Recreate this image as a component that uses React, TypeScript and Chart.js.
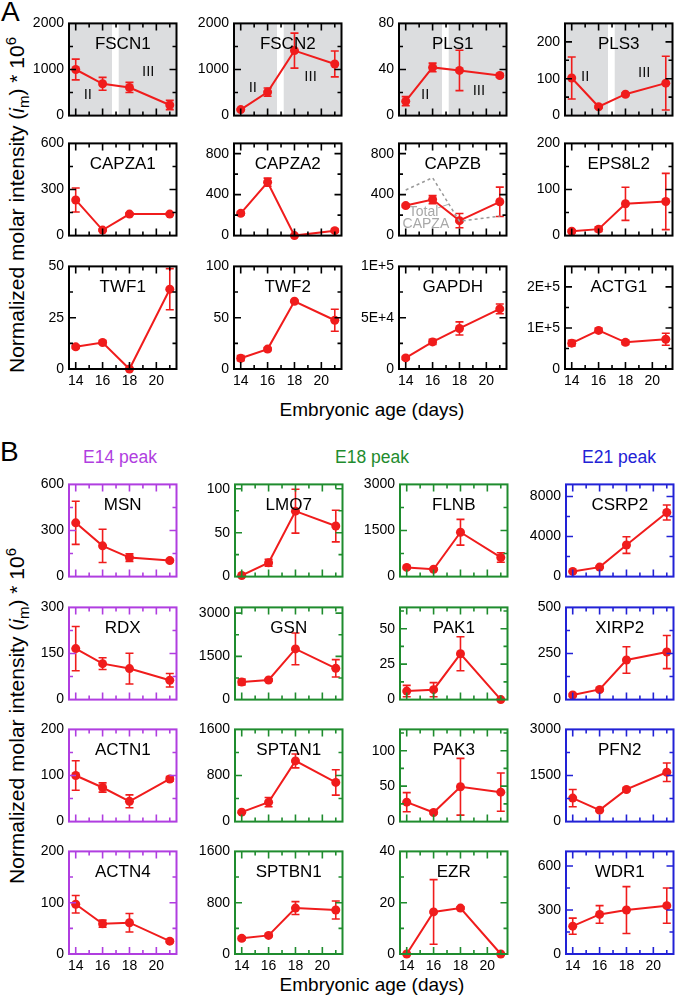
import React, { useEffect, useRef } from "react";
import { Chart, registerables } from "chart.js";
Chart.register(...registerables);

const FONT = '"Liberation Sans", Arial, Helvetica, sans-serif';
Chart.defaults.font.family = FONT;

// ---------- data ----------
const DAYS = [14, 16, 18, 21];
const X_TICKS = [14, 16, 18, 20];

// Panel A
const FSCN1 = [1000, 690, 610, 230];
const FSCN1_ERR = [225, 140, 110, 100];
const FSCN2 = [130, 510, 1410, 1120];
const FSCN2_ERR = [20, 90, 380, 280];
const PLS1 = [12.5, 41.8, 39.2, 34.8];
const PLS1_ERR = [4, 3.7, 17.5, 1.5];
const PLS3 = [102, 24, 58, 88];
const PLS3_ERR = [57, 3, 4, 73];
const CAPZA1 = [232, 36, 140, 140];
const CAPZA1_ERR = [78, 6, 8, 6];
const CAPZA2 = [217, 521, 0, 48];
const CAPZA2_ERR = [15, 40, 5, 15];
const CAPZB = [293, 352, 146, 330];
const CAPZB_ERR = [15, 40, 70, 143];
const TOTAL_CAPZA = [445, 565, 140, 190];
const EPS8L2 = [9.4, 14, 69, 74];
const EPS8L2_ERR = [3, 5, 36, 61];
const TWF1 = [10.8, 12.9, 0, 38.9];
const TWF1_ERR = [0.8, 0.8, 0.5, 10];
const TWF2 = [10.5, 19.4, 66, 47.5];
const TWF2_ERR = [2.5, 1.5, 1, 10.7];
const GAPDH = [10800, 26400, 39500, 58600];
const GAPDH_ERR = [1500, 2500, 6400, 4800];
const ACTG1 = [63000, 94000, 65000, 72500];
const ACTG1_ERR = [7000, 5000, 5000, 14700];

// Panel B
const MSN = [350, 200, 124, 104];
const MSN_ERR = [140, 108, 25, 8];
const RDX = [166, 117, 101, 63];
const RDX_ERR = [72, 19, 50, 22];
const ACTN1 = [100, 74, 44, 92.5];
const ACTN1_ERR = [32, 10, 14, 5];
const ACTN4 = [97, 59, 61, 25];
const ACTN4_ERR = [17, 7, 18, 3];
const LMO7 = [1.3, 15.8, 74.5, 57.6];
const LMO7_ERR = [1, 4, 25, 18];
const GSN = [612, 682, 1760, 1086];
const GSN_ERR = [100, 40, 550, 300];
const SPTAN1 = [164, 337, 1053, 680];
const SPTAN1_ERR = [20, 80, 120, 220];
const SPTBN1 = [244, 290, 716, 686];
const SPTBN1_ERR = [25, 20, 100, 140];
const FLNB = [300, 238, 1443, 623];
const FLNB_ERR = [40, 30, 420, 155];
const PAK1 = [6, 7, 32.3, 0];
const PAK1_ERR = [4, 5, 12, 0.5];
const PAK3 = [27.4, 12.8, 49.2, 41.5];
const PAK3_ERR = [13.5, 2, 40, 27];
const EZR = [0, 16.4, 17.9, 0];
const EZR_ERR = [0, 12.6, 0.5, 0];
const CSRP2 = [516, 946, 3150, 6400];
const CSRP2_ERR = [60, 80, 830, 750];
const XIRP2 = [25, 55, 215, 258];
const XIRP2_ERR = [8, 8, 72, 90];
const PFN2 = [765, 373, 1046, 1607];
const PFN2_ERR = [280, 40, 50, 300];
const WDR1 = [190, 270, 300, 330];
const WDR1_ERR = [55, 60, 160, 120];

// y tick labels that are not plain numbers
const GAPDH_LABELS = ["0", "5E+4", "1E+5"];
const ACTG1_LABELS = ["0", "1E+5", "2E+5"];

// ---------- styling / layout ----------
const RED = "#f01c1c";
const BLACK = "#000000";
const PURPLE = "#b03ee0";
const GREEN = "#1f8c2e";
const BLUE = "#2222d6";
const SHADE = "#dcdddf";

const PLOT_W = 109;
const PLOT_H = 106;
const Y_W = 55;
const PAD_T = 10;
const PAD_R = 3;
const X_H = 25;

const A_COLS = [69, 234, 399, 565];
const A_ROWS = [20, 140, 263];
const B_COLS = [69, 235, 400, 566];
const B_ROWS = [481, 604, 726, 848];

type Note = { text: string; x: number; y: number };
type PanelDef = {
  name: string;
  values: number[];
  errors: number[];
  max: number;
  ticks: number[];
  labels?: string[];
  color: string;
  left: number;
  top: number;
  bottom: boolean;
  shadeNotes?: Note[];
  total?: number[];
  grayNotes?: Note[];
  connector?: number[][];
};

const SHADE_BANDS = [
  [13.5, 16.7],
  [17.2, 21.5],
];

const A = (name, values, errors, max, ticks, c, r, extra = {}) =>
  ({ name, values, errors, max, ticks, color: BLACK, left: A_COLS[c], top: A_ROWS[r], bottom: r === 2, ...extra }) as PanelDef;
const B = (name, values, errors, max, ticks, c, r, extra = {}) =>
  ({ name, values, errors, max, ticks, color: [PURPLE, GREEN, GREEN, BLUE][c], left: B_COLS[c], top: B_ROWS[r], bottom: r === 3, ...extra }) as PanelDef;

const PANELS: PanelDef[] = [
  A("FSCN1", FSCN1, FSCN1_ERR, 2000, [0, 1000, 2000], 0, 0, {
    shadeNotes: [{ text: "II", x: 14.9, y: 450 }, { text: "III", x: 19.4, y: 950 }],
  }),
  A("FSCN2", FSCN2, FSCN2_ERR, 2000, [0, 1000, 2000], 1, 0, {
    shadeNotes: [{ text: "II", x: 14.9, y: 600 }, { text: "III", x: 19.2, y: 840 }],
  }),
  A("PLS1", PLS1, PLS1_ERR, 80, [0, 40, 80], 2, 0, {
    shadeNotes: [{ text: "II", x: 15.45, y: 17.7 }, { text: "III", x: 19.45, y: 21.5 }],
  }),
  A("PLS3", PLS3, PLS3_ERR, 250, [0, 100, 200], 3, 0, {
    shadeNotes: [{ text: "II", x: 15.0, y: 106 }, { text: "III", x: 19.4, y: 117 }],
  }),
  A("CAPZA1", CAPZA1, CAPZA1_ERR, 600, [0, 300, 600], 0, 1),
  A("CAPZA2", CAPZA2, CAPZA2_ERR, 900, [0, 400, 800], 1, 1),
  A("CAPZB", CAPZB, CAPZB_ERR, 900, [0, 400, 800], 2, 1, {
    total: TOTAL_CAPZA,
    grayNotes: [{ text: "Total", x: 15.33, y: 229 }, { text: "CAPZA", x: 15.5, y: 109 }],
    connector: [[16.42, 272], [17.2, 306]],
  }),
  A("EPS8L2", EPS8L2, EPS8L2_ERR, 200, [0, 100, 200], 3, 1),
  A("TWF1", TWF1, TWF1_ERR, 50, [0, 25, 50], 0, 2),
  A("TWF2", TWF2, TWF2_ERR, 100, [0, 50, 100], 1, 2),
  A("GAPDH", GAPDH, GAPDH_ERR, 100000, [0, 50000, 100000], 2, 2, { labels: GAPDH_LABELS }),
  A("ACTG1", ACTG1, ACTG1_ERR, 250000, [0, 100000, 200000], 3, 2, { labels: ACTG1_LABELS }),

  B("MSN", MSN, MSN_ERR, 600, [0, 300, 600], 0, 0),
  B("RDX", RDX, RDX_ERR, 300, [0, 150, 300], 0, 1),
  B("ACTN1", ACTN1, ACTN1_ERR, 200, [0, 100, 200], 0, 2),
  B("ACTN4", ACTN4, ACTN4_ERR, 200, [0, 100, 200], 0, 3),
  B("LMO7", LMO7, LMO7_ERR, 105, [0, 50, 100], 1, 0),
  B("GSN", GSN, GSN_ERR, 3200, [0, 1500, 3000], 1, 1),
  B("SPTAN1", SPTAN1, SPTAN1_ERR, 1600, [0, 800, 1600], 1, 2),
  B("SPTBN1", SPTBN1, SPTBN1_ERR, 1600, [0, 800, 1600], 1, 3),
  B("FLNB", FLNB, FLNB_ERR, 3000, [0, 1500, 3000], 2, 0),
  B("PAK1", PAK1, PAK1_ERR, 65, [0, 25, 50], 2, 1),
  B("PAK3", PAK3, PAK3_ERR, 130, [0, 50, 100], 2, 2),
  B("EZR", EZR, EZR_ERR, 40, [0, 20, 40], 2, 3),
  B("CSRP2", CSRP2, CSRP2_ERR, 9200, [0, 4000, 8000], 3, 0),
  B("XIRP2", XIRP2, XIRP2_ERR, 500, [0, 250, 500], 3, 1),
  B("PFN2", PFN2, PFN2_ERR, 3000, [0, 1500, 3000], 3, 2),
  B("WDR1", WDR1, WDR1_ERR, 700, [0, 300, 600], 3, 3),
];

// ---------- plugin ----------
const framePlugin = {
  id: "frame",
  beforeDatasetsDraw(chart: any, _args: any, o: any) {
    const { ctx, chartArea: a, scales } = chart;
    const x = scales.x, y = scales.y;
    ctx.save();
    if (o.shadeNotes) {
      ctx.fillStyle = SHADE;
      for (const [x0, x1] of SHADE_BANDS) {
        const p0 = x.getPixelForValue(x0), p1 = x.getPixelForValue(x1);
        ctx.fillRect(p0, a.top, p1 - p0, a.bottom - a.top);
      }
      ctx.fillStyle = "#111";
      ctx.font = `15px ${FONT}`;
      ctx.textAlign = "center";
      ctx.textBaseline = "middle";
      for (const n of o.shadeNotes) ctx.fillText(n.text, x.getPixelForValue(n.x), y.getPixelForValue(n.y));
    }
    if (o.grayNotes) {
      ctx.fillStyle = "#a8a8a8";
      ctx.font = `14px ${FONT}`;
      ctx.textAlign = "center";
      ctx.textBaseline = "middle";
      for (const n of o.grayNotes) ctx.fillText(n.text, x.getPixelForValue(n.x), y.getPixelForValue(n.y));
    }
    if (o.connector) {
      ctx.strokeStyle = "#a8a8a8";
      ctx.lineWidth = 1;
      ctx.beginPath();
      ctx.moveTo(x.getPixelForValue(o.connector[0][0]), y.getPixelForValue(o.connector[0][1]));
      ctx.lineTo(x.getPixelForValue(o.connector[1][0]), y.getPixelForValue(o.connector[1][1]));
      ctx.stroke();
    }
    // error bars
    ctx.strokeStyle = RED;
    ctx.lineWidth = 1.6;
    o.values.forEach((v: number, i: number) => {
      const e = o.errors[i];
      if (!e) return;
      const px = x.getPixelForValue(DAYS[i]);
      const t = y.getPixelForValue(v + e);
      const b = y.getPixelForValue(Math.max(0, v - e));
      ctx.beginPath();
      ctx.moveTo(px, t);
      ctx.lineTo(px, b);
      ctx.moveTo(px - 4, t);
      ctx.lineTo(px + 4, t);
      ctx.moveTo(px - 4, b);
      ctx.lineTo(px + 4, b);
      ctx.stroke();
    });
    ctx.restore();
  },
  afterDraw(chart: any, _args: any, o: any) {
    const { ctx, chartArea: a, scales } = chart;
    const x = scales.x, y = scales.y;
    ctx.save();
    ctx.strokeStyle = o.color;
    ctx.lineWidth = 1.6;
    const hline = (py: number, len: number) => {
      ctx.beginPath();
      ctx.moveTo(a.left, py);
      ctx.lineTo(a.left + len, py);
      ctx.moveTo(a.right, py);
      ctx.lineTo(a.right - len, py);
      ctx.stroke();
    };
    const majors: number[] = o.ticks;
    const step = majors[1] - majors[0];
    const minors: number[] = [];
    majors.forEach((m) => {
      if (m + step / 2 < o.max - 1e-9) minors.push(m + step / 2);
    });
    majors.forEach((m) => {
      const py = y.getPixelForValue(m);
      if (py > a.top + 2 && py < a.bottom - 2) hline(py, 7);
    });
    minors.forEach((m) => {
      const py = y.getPixelForValue(m);
      if (py > a.top + 2 && py < a.bottom - 2) hline(py, 4);
    });
    for (let d = 14; d <= 21; d++) {
      const px = x.getPixelForValue(d);
      const len = d % 2 === 0 ? 7 : 4;
      ctx.beginPath();
      ctx.moveTo(px, a.bottom);
      ctx.lineTo(px, a.bottom - len);
      ctx.moveTo(px, a.top);
      ctx.lineTo(px, a.top + len);
      ctx.stroke();
    }
    ctx.lineWidth = 2;
    ctx.strokeRect(a.left, a.top, a.right - a.left, a.bottom - a.top);
    ctx.fillStyle = "#000";
    ctx.font = `17px ${FONT}`;
    ctx.textAlign = "center";
    ctx.textBaseline = "middle";
    ctx.fillText(o.name, (a.left + a.right) / 2, a.top + 21);
    ctx.restore();
  },
};

function buildConfig(p: PanelDef): any {
  const datasets: any[] = [];
  if (p.total) {
    datasets.push({
      data: DAYS.map((d, i) => ({ x: d, y: p.total![i] })),
      borderColor: "#9a9a9a",
      borderWidth: 1.5,
      borderDash: [3, 3],
      pointRadius: 0,
      fill: false,
      clip: false,
    });
  }
  datasets.push({
    data: DAYS.map((d, i) => ({ x: d, y: p.values[i] })),
    borderColor: RED,
    backgroundColor: RED,
    pointBackgroundColor: RED,
    pointBorderColor: RED,
    pointBorderWidth: 0,
    borderWidth: 2,
    pointRadius: 4.5,
    fill: false,
    clip: false,
  });
  return {
    type: "line",
    data: { datasets },
    options: {
      animation: false,
      responsive: false,
      maintainAspectRatio: false,
      devicePixelRatio: 1,
      layout: { padding: { top: PAD_T, right: PAD_R, left: 0, bottom: 0 } },
      plugins: {
        legend: { display: false },
        tooltip: { enabled: false },
        frame: {
          name: p.name,
          values: p.values,
          errors: p.errors,
          ticks: p.ticks,
          max: p.max,
          color: p.color,
          shadeNotes: p.shadeNotes,
          grayNotes: p.grayNotes,
          connector: p.connector,
        },
      },
      scales: {
        x: {
          type: "linear",
          min: 13.5,
          max: 21.5,
          grid: { display: false, drawTicks: false },
          border: { display: false },
          ticks: {
            display: p.bottom,
            padding: 4,
            autoSkip: false,
            maxRotation: 0,
            color: "#000",
            font: { size: 14, family: FONT },
          },
          afterBuildTicks: (s: any) => {
            s.ticks = X_TICKS.map((v) => ({ value: v }));
          },
          afterFit: (s: any) => {
            s.height = p.bottom ? X_H : 3;
          },
        },
        y: {
          type: "linear",
          min: 0,
          max: p.max,
          grid: { display: false, drawTicks: false },
          border: { display: false },
          ticks: {
            padding: 5,
            autoSkip: false,
            color: "#000",
            font: { size: 14, family: FONT },
            callback: (v: number, i: number) => (p.labels ? p.labels[i] : String(v)),
          },
          afterBuildTicks: (s: any) => {
            s.ticks = p.ticks.map((v) => ({ value: v }));
          },
          afterFit: (s: any) => {
            s.width = Y_W;
          },
        },
      },
    },
    plugins: [framePlugin],
  };
}

function ChartPanel({ p }: { p: PanelDef }) {
  const ref = useRef<HTMLCanvasElement>(null);
  useEffect(() => {
    const chart = new Chart(ref.current!, buildConfig(p));
    return () => chart.destroy();
  }, [p]);
  const w = Y_W + PLOT_W + PAD_R;
  const h = PAD_T + PLOT_H + (p.bottom ? X_H : 3);
  return (
    <canvas
      ref={ref}
      width={w}
      height={h}
      style={{ position: "absolute", left: p.left - Y_W, top: p.top - PAD_T, width: w, height: h }}
    />
  );
}

const txt = (size: number): React.CSSProperties => ({
  position: "absolute",
  fontFamily: FONT,
  fontSize: size,
  lineHeight: `${size}px`,
  whiteSpace: "nowrap",
  color: "#000",
});

function YTitle({ cx, cy }: { cx: number; cy: number }) {
  return (
    <div
      style={{
        ...txt(21),
        left: cx,
        top: cy,
        transform: "translate(-50%, -50%) rotate(-90deg)",
      }}
    >
      Normalized molar intensity (<i>i</i>
      <sub style={{ fontSize: 15 }}>m</sub>) * 10<sup style={{ fontSize: 15 }}>6</sup>
    </div>
  );
}

function Centered({ x, baseline, size, color, children }: any) {
  return (
    <div
      style={{
        ...txt(size),
        color: color || "#000",
        left: x,
        top: baseline - 0.8465 * size,
        transform: "translateX(-50%)",
      }}
    >
      {children}
    </div>
  );
}

export default function App() {
  return (
    <div style={{ position: "absolute", left: 0, top: 0, width: 675, height: 998, background: "#fff", overflow: "hidden" }}>
      <div style={{ ...txt(28), left: 1, top: 22 - 0.8465 * 28 }}>A</div>
      <div style={{ ...txt(28), left: 0, top: 461.5 - 0.8465 * 28 }}>B</div>
      <YTitle cx={17} cy={205} />
      <YTitle cx={17} cy={716} />
      <Centered x={372} baseline={416} size={19}>Embryonic age (days)</Centered>
      <Centered x={372} baseline={991} size={19}>Embryonic age (days)</Centered>
      <Centered x={120} baseline={464} size={17.5} color={PURPLE}>E14 peak</Centered>
      <Centered x={372} baseline={464} size={17.5} color={GREEN}>E18 peak</Centered>
      <Centered x={619} baseline={464} size={17.5} color={BLUE}>E21 peak</Centered>
      {PANELS.map((p) => (
        <ChartPanel key={p.name} p={p} />
      ))}
    </div>
  );
}
